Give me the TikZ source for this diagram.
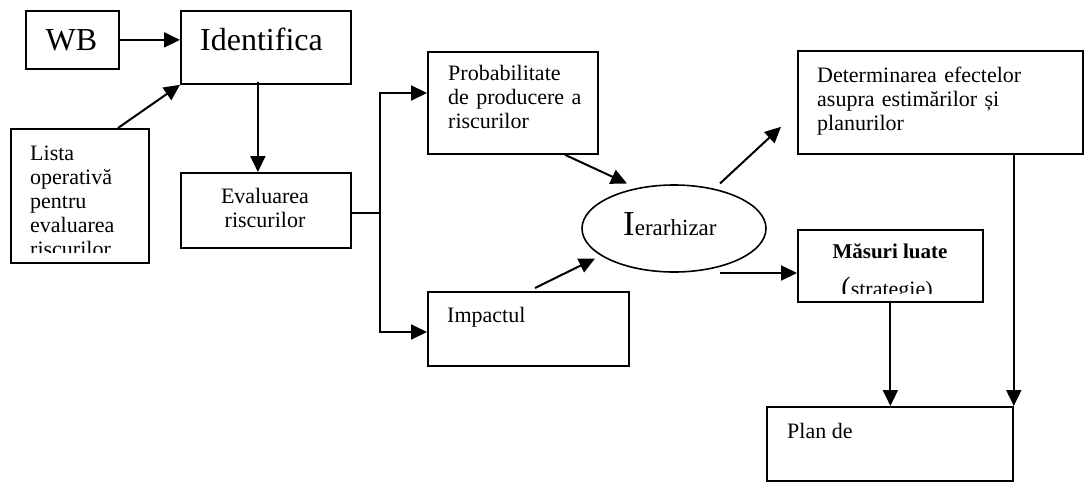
\documentclass[tikz,border=0pt]{standalone}
\usepackage{fontspec}
\setmainfont{Liberation Serif}
\usetikzlibrary{arrows.meta,calc,shapes.geometric}

\tikzset{
  box/.style={draw, line width=1.8pt, rectangle, inner sep=0pt, anchor=north west},
  oval/.style={draw, line width=1.6pt, ellipse, inner sep=0pt},
  arr/.style={line width=2pt, -{Triangle[length=16pt,width=15pt]}},
  plainline/.style={line width=2pt},
  small/.style={font=\fontsize{22}{24}\selectfont, inner sep=0pt},
  big/.style={font=\fontsize{32}{34}\selectfont, inner sep=0pt}
}

\begin{document}
\begin{tikzpicture}[x=1pt, y=-1pt]
  \useasboundingbox (0,0) rectangle (1084,482);

  % boxes
  \node[box, minimum width=93pt,  minimum height=58pt]  (wb)     at (25,10)  {};
  \node[box, minimum width=170pt, minimum height=73pt]  (ident)  at (180,10) {};
  \node[box, minimum width=138pt, minimum height=134pt] (lista)  at (10,128) {};
  \node[box, minimum width=170pt, minimum height=75pt]  (eval)   at (180,172) {};
  \node[box, minimum width=170pt, minimum height=102pt] (prob)   at (427,51) {};
  \node[box, minimum width=201pt, minimum height=74pt]  (impact) at (427,291) {};
  \node[oval, minimum width=184pt, minimum height=87pt] (ier)    at (674,228.5) {};
  \node[box, minimum width=285pt, minimum height=103pt] (det)    at (797,50) {};
  \node[box, minimum width=185pt, minimum height=72pt]  (mas)    at (797,229) {};
  \node[box, minimum width=246pt, minimum height=74pt]  (plan)   at (766,406) {};

  % texts
  \node[big, anchor=base] (twb) at (71.5,50) {WB};
  \node[big, anchor=base west] (tident) at (200,50) {Identifica};
  \begin{scope}
    \clip (10,128) rectangle (148,252);
    \node[small, anchor=base west, text width=115pt, align=left] (tlista) at (30,160)
      {Lista\\operativă\\pentru\\evaluarea\\riscurilor};
  \end{scope}
  \node[small, anchor=base, text width=170pt, align=center] (teval) at (265,203)
    {Evaluarea\\riscurilor};
  \node[small, anchor=base west, text width=145pt, align=left] (tprob) at (448,80)
    {Probabilitate\\de producere a\\riscurilor};
  \node[small, anchor=base west] (timpact) at (447,322) {Impactul};
  \node[anchor=base west, inner sep=0pt] (tier) at (623,235)
    {{\fontsize{35}{35}\selectfont I}{\fontsize{23}{23}\selectfont erarhizar}};
  \node[small, anchor=base west, text width=250pt, align=left] (tdet) at (817,82)
    {Determinarea efectelor\\asupra estimărilor și\\planurilor};
  \node[small, anchor=base, font=\fontsize{21}{24}\selectfont\bfseries] (tmas) at (890,258) {Măsuri luate};
  \begin{scope}
    \clip (797,229) rectangle (982,293.5);
    \node[anchor=base, inner sep=0pt] (tstrat) at (887,296)
      {{\fontsize{28}{28}\selectfont (}{\fontsize{22}{22}\selectfont strategie)}};
  \end{scope}
  \node[small, anchor=base west] (tplan) at (787,438) {Plan de};

  % connectors
  \draw[arr] (wb.east) -- (ident.west |- wb.east);
  \draw[arr] ($(lista.north west)+(108,0)$) -- (ident.south west);
  \draw[arr] ($(ident.south)+(-8,-3)$) -- ($(eval.north)+(-8,0)$);
  \coordinate (split) at (380,213);
  \draw[plainline] (eval.east |- split) -- (split);
  \draw[arr] (split) |- (prob.west |- 0,93);
  \draw[arr] (split) |- (impact.west |- 0,332);
  \draw[arr] ($(prob.south west)+(138,0)$) -- ($(ier.center)+(-47,-45)$);
  \draw[arr] ($(impact.north west)+(108,-3)$) -- ($(ier.center)+(-79,30)$);
  \draw[arr] ($(ier.center)+(46,-45)$) -- ($(det.south west)+(-16,-28)$);
  \draw[arr] ($(ier.center)+(46,44.5)$) -- (mas.west |- 0,273);
  \draw[arr] (mas.south) -- (mas.south |- plan.north);
  \draw[arr] (plan.north east |- det.south) -- (plan.north east);
\end{tikzpicture}
\end{document}
